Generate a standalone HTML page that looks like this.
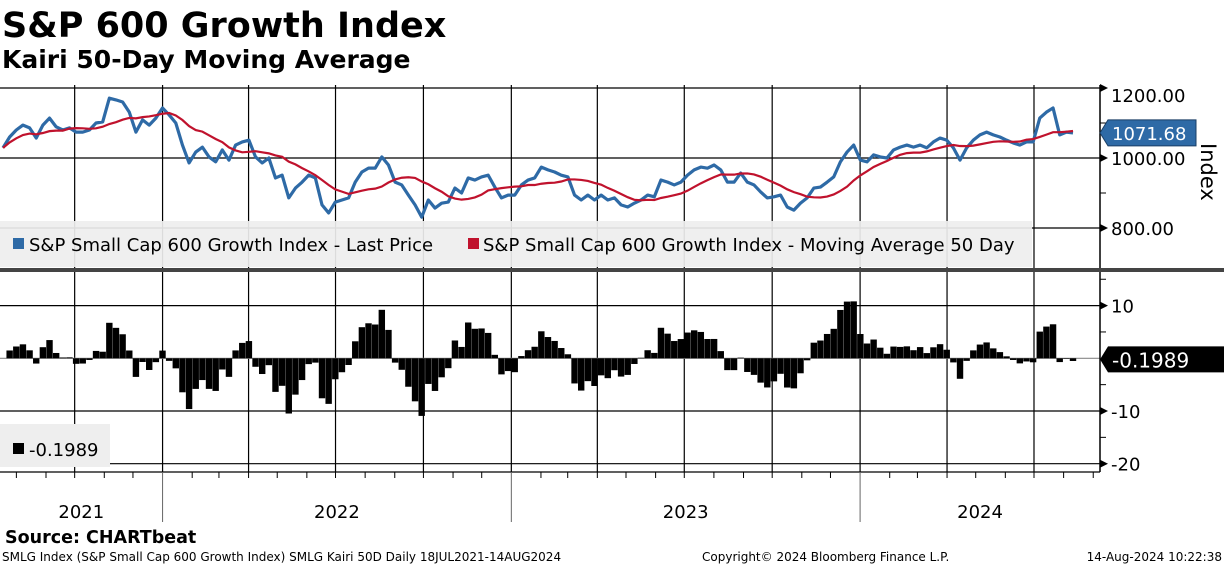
<!DOCTYPE html>
<html><head><meta charset="utf-8">
<style>
html,body{margin:0;padding:0;background:#fff;}
svg{display:block;font-family:"DejaVu Sans","Liberation Sans",Arial,sans-serif;}
</style></head>
<body>
<svg id="chart" width="1224" height="566" viewBox="0 0 1224 566" xmlns="http://www.w3.org/2000/svg">
<text x="2" y="37" font-size="35" font-weight="bold" fill="#000">S&amp;P 600 Growth Index</text>
<text x="2" y="68" font-size="25" font-weight="bold" fill="#000">Kairi 50-Day Moving Average</text>
<g id="grid"></g>
<g id="topPanel"></g>
<g id="botPanel"></g>
<g id="axes"></g>
<text x="5" y="543" font-size="17.5" font-weight="bold">Source: CHARTbeat</text>
<text x="2" y="561" font-size="12">SMLG Index (S&amp;P Small Cap 600 Growth Index) SMLG Kairi 50D  Daily 18JUL2021-14AUG2024</text>
<text x="702" y="561" font-size="12">Copyright© 2024 Bloomberg Finance L.P.</text>
<text x="1222" y="561" font-size="12" text-anchor="end">14-Aug-2024 10:22:38</text>
</svg>
<script>
// weekly closes, 18 Jul 2021 .. 14 Aug 2024
const prices = [1029,1060,1080,1094,1086,1057,1094,1114,1089,1080,1086,1074,1074,1080,1100,1103,1171,1166,1160,1131,1074,1109,1094,1114,1143,1123,1100,1037,986,1017,1031,1003,989,1023,994,1037,1046,1051,1003,986,1000,943,951,886,914,931,951,943,866,843,874,880,886,931,960,971,
971,1003,980,931,923,894,866,831,880,857,871,874,914,900,943,937,946,951,917,886,894,894,923,937,943,974,966,960,951,946,894,880,894,880,894,880,886,866,860,871,880,894,889,937,931,923,931,951,966,974,971,980,966,931,931,
957,931,923,903,886,889,894,860,851,871,886,914,917,931,946,989,1017,1037,994,989,1009,1003,1000,1023,1031,1037,1031,1037,1029,1046,1057,1051,1029,994,1029,1051,1066,1074,1066,1060,1051,1043,1037,1046,1046,1114,1131,1143,1066,1074,1071.68];
const priceTicks = [800,1000,1200];
const kairiTicks = [10,-10,-20];
const yearLabels = ["2021","2022","2023","2024"];
const maWindow = 10; // weeks ≈ 50 trading days

const NS="http://www.w3.org/2000/svg";
function mk(t,a,p){const e=document.createElementNS(NS,t);for(const k in a)e.setAttribute(k,a[k]);p.appendChild(e);return e;}
const X0=3,X1=1073,PR=1100;
const xw=i=>X0+i*(X1-X0)/(prices.length-1);
const yP=v=>158-(v-1000)*0.35;
const yK=v=>358.3-v*5.27;
const dayX=d=>X0+(d-new Date(2021,6,18))/86400000/365.25*349;

const ma=prices.map((p,i)=>{const s=prices.slice(Math.max(0,i-maWindow+1),i+1);return s.reduce((a,b)=>a+b,0)/s.length;});
const kairi=prices.map((p,i)=>(p-ma[i])/ma[i]*100);

const gridG=document.getElementById('grid'),topG=document.getElementById('topPanel'),botG=document.getElementById('botPanel'),axesG=document.getElementById('axes');
for(let y=2021;y<=2024;y++)for(let q=0;q<4;q++){const x=dayX(new Date(y,q*3,1));if(x<5||x>1095)continue;
 const l=mk('line',{x1:x,x2:x,y1:85,y2:472,stroke:'#000','stroke-width':1.2},gridG);
 
 }
[800,1000,1200].forEach(v=>{const l=mk('line',{x1:0,x2:PR,y1:yP(v),y2:yP(v),stroke:'#000','stroke-width':1.2},gridG);
 
 });
[10,0,-10,-20].forEach(v=>{const l=mk('line',{x1:0,x2:PR,y1:yK(v),y2:yK(v),stroke:v==0?'#888':'#000','stroke-width':1.2},gridG);
 
 });
const pl=mk('polyline',{points:prices.map((v,i)=>xw(i)+','+yP(v)).join(' '),fill:'none',stroke:'#2e6aa6','stroke-width':3.2,'stroke-linejoin':'round'},topG);


const ml=mk('polyline',{points:ma.map((v,i)=>xw(i)+','+yP(v)).join(' '),fill:'none',stroke:'#c0122d','stroke-width':2.2},topG);


kairi.forEach((v,i)=>{const y0=yK(0),y=yK(v);const r=mk('rect',{x:xw(i)-3.2,y:Math.min(y0,y),width:6.4,height:Math.abs(y-y0),fill:'#000'},botG);
 
 });
const lg=mk('g',{},topG);


mk('rect',{x:0,y:221,width:1032,height:46,fill:'#eeeeee','fill-opacity':0.92},lg);
mk('rect',{x:13,y:238,width:11,height:11,fill:'#2e6aa6'},lg);
const t1=mk('text',{x:29,y:251,'font-size':18},lg);t1.textContent='S&P Small Cap 600 Growth Index - Last Price';


mk('rect',{x:468,y:238,width:11,height:11,fill:'#c0122d'},lg);
const t2=mk('text',{x:483,y:251,'font-size':18},lg);t2.textContent='S&P Small Cap 600 Growth Index - Moving Average 50 Day';


const sep=mk('rect',{x:0,y:268,width:1224,height:4,fill:'#444'},axesG);


const bl=mk('g',{},botG);


mk('rect',{x:0,y:424,width:110,height:43,fill:'#eeeeee'},bl);
mk('rect',{x:13,y:443,width:11,height:11,fill:'#000'},bl);
const t3=mk('text',{x:29,y:456,'font-size':18},bl);t3.textContent='-0.1989';
mk('line',{x1:PR,x2:PR,y1:85,y2:268,stroke:'#000','stroke-width':1.5},axesG);
mk('line',{x1:PR,x2:PR,y1:272,y2:472,stroke:'#000','stroke-width':1.5},axesG);
priceTicks.forEach(v=>{const y=yP(v);mk('path',{d:`M${PR} ${y-4}L${PR+8} ${y}L${PR} ${y+4}Z`,fill:'#000'},axesG);
 const t=mk('text',{x:1111,y:Math.max(y,95)+7,'font-size':18},axesG);t.textContent=v.toFixed(2);
 
 });
[900,1100].forEach(v=>mk('line',{x1:PR,x2:PR+6,y1:yP(v),y2:yP(v),stroke:'#000'},axesG));
const it=mk('text',{x:0,y:0,'font-size':21,transform:'translate(1201,143) rotate(90)'},axesG);it.textContent='Index';


kairiTicks.forEach(v=>{const y=yK(v);mk('path',{d:`M${PR} ${y-4}L${PR+8} ${y}L${PR} ${y+4}Z`,fill:'#000'},axesG);
 const t=mk('text',{x:1111,y:y+7,'font-size':18},axesG);t.textContent=String(v);
 
 });
[5,-5,-15,15].forEach(v=>{const y=yK(v);if(y>275)mk('line',{x1:PR,x2:PR+6,y1:y,y2:y,stroke:'#000'},axesG);});
const last=prices[prices.length-1],ly=yP(last);
const pt=mk('g',{},axesG);


mk('path',{d:`M1100 ${ly}L1108 ${ly-13}H1196V${ly+13}H1108Z`,fill:'#2e6aa6',stroke:'#1a3f66'},pt);
const pv=mk('text',{x:1112,y:ly+7,'font-size':18,fill:'#fff'},pt);pv.textContent=last.toFixed(2);
const lk=-0.1989,ky=yK(lk);
const kt=mk('g',{},axesG);


mk('path',{d:`M1100 ${ky}L1108 ${ky-13}H1224V${ky+13}H1108Z`,fill:'#000'},kt);
const kv=mk('text',{x:1112,y:ky+8,'font-size':20,fill:'#fff'},kt);kv.textContent=String(lk);
mk('line',{x1:0,x2:PR,y1:472,y2:472,stroke:'#000','stroke-width':1.2},axesG);
for(let y=2021;y<=2024;y++)for(let m=0;m<12;m++){const x=dayX(new Date(y,m,1));if(x<2||x>1098)continue;
 mk('line',{x1:x,x2:x,y1:472,y2:m==0?522:478,stroke:m==0?'#666':'#000'},axesG);}
yearLabels.forEach((s)=>{const y=+s;const a=Math.max(0,dayX(new Date(y,0,1))),b=Math.min(1100,dayX(new Date(y+1,0,1)));
 const t=mk('text',{x:(a+b)/2,y:518,'font-size':18,'text-anchor':'middle'},axesG);t.textContent=s;
 
 });
</script>
</body></html>
